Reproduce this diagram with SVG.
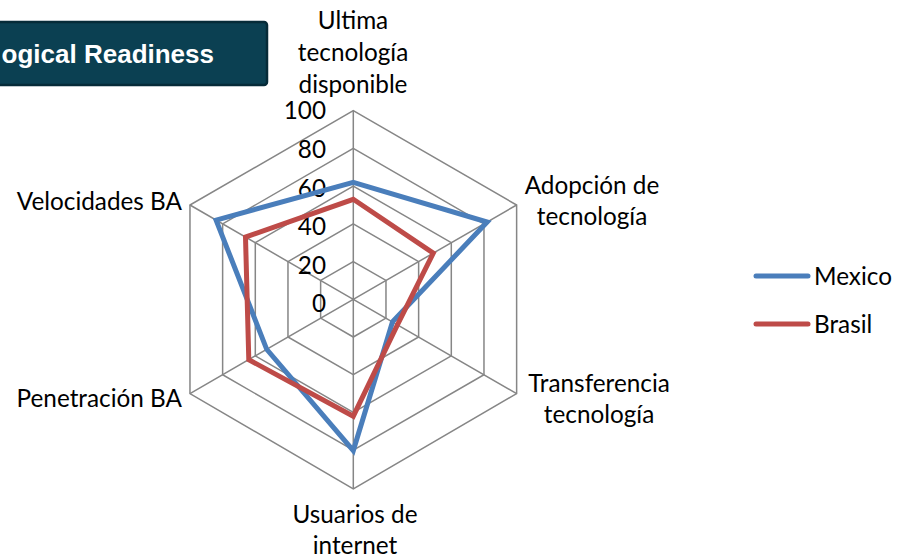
<svg xmlns="http://www.w3.org/2000/svg" width="904" height="558" viewBox="0 0 904 558">
<style>
.grid{fill:none;stroke:#868686;stroke-width:1.5}
.lbl{font-family:Lato,"Open Sans","Liberation Sans",sans-serif;font-size:24.3px;fill:#000}
.mid{text-anchor:middle}
.end{text-anchor:end}
.ser{fill:none;stroke-width:5;stroke-linejoin:miter}
.mx{stroke:#4A7EBB}
.br{stroke:#BE4B48}
.leg{stroke-width:5;stroke-linecap:round}
</style>
<rect width="904" height="558" fill="#fff"/>
<g id="title">
<rect x="-10" y="22" width="277" height="63" rx="3" fill="#0B4052" stroke="#062B38" stroke-width="2.5"/>
<text x="214" y="63" font-family="'Liberation Sans',Arial,sans-serif" font-weight="bold" font-size="26" fill="#fff" text-anchor="end">ogical Readiness</text>
</g>
<g id="grid">
<polygon class="grid" points="353.3,261.6 385.97,280.44 385.97,318.16 353.3,337.02 320.63,318.16 320.63,280.44"/>
<polygon class="grid" points="353.3,223.86 418.63,261.58 418.63,337.02 353.3,374.74 287.97,337.02 287.97,261.58"/>
<polygon class="grid" points="353.3,186.14 451.3,242.72 451.3,355.88 353.3,412.46 255.3,355.88 255.3,242.72"/>
<polygon class="grid" points="353.3,148.42 483.97,223.86 483.97,374.74 353.3,450.18 222.63,374.74 222.63,223.86"/>
<polygon class="grid" points="353.3,110.7 516.63,205 516.63,393.6 353.3,488.9 189.97,393.6 189.97,205"/>
<path class="grid" d="M353.3,299.3L353.3,110.7M353.3,299.3L516.63,205M353.3,299.3L516.63,393.6M353.3,299.3L353.3,488.9M353.3,299.3L189.97,393.6M353.3,299.3L189.97,205"/>
</g>
<g id="axis-values" class="lbl end">
<text x="326" y="119">100</text>
<text x="326" y="157.5">80</text>
<text x="326" y="196.5">60</text>
<text x="326" y="235">40</text>
<text x="326" y="273.5">20</text>
<text x="326" y="311.5">0</text>
</g>
<g id="axis-labels" class="lbl">
<text class="mid" x="353" y="29">Ultima</text>
<text class="mid" x="353" y="61">tecnología</text>
<text class="mid" x="353" y="93">disponible</text>
<text class="mid" x="592" y="194">Adopción de</text>
<text class="mid" x="592" y="225">tecnología</text>
<text class="mid" x="599" y="392">Transferencia</text>
<text class="mid" x="599" y="423">tecnología</text>
<text class="mid" x="355" y="523">Usuarios de</text>
<text class="mid" x="355" y="554">internet</text>
<text class="end" x="182" y="210">Velocidades BA</text>
<text class="end" x="182" y="407">Penetración BA</text>
</g>
<g id="connectors">
<polygon id="series-mexico" class="ser mx" points="353.3,182.4 487.2,222.0 392.5,321.9 353.3,450.6 266.7,349.3 216.1,220.1"/>
<polygon id="series-brasil" class="ser br" points="353.3,199.3 433.3,253.1 397.4,324.8 353.3,416.2 248.8,359.7 245.5,237.1"/>
</g>
<g id="legend">
<line class="leg mx" x1="756" y1="276" x2="808" y2="276"/>
<text class="lbl" x="814" y="285">Mexico</text>
<line class="leg br" x1="756" y1="324" x2="808" y2="324"/>
<text class="lbl" x="814" y="333">Brasil</text>
</g>
</svg>
